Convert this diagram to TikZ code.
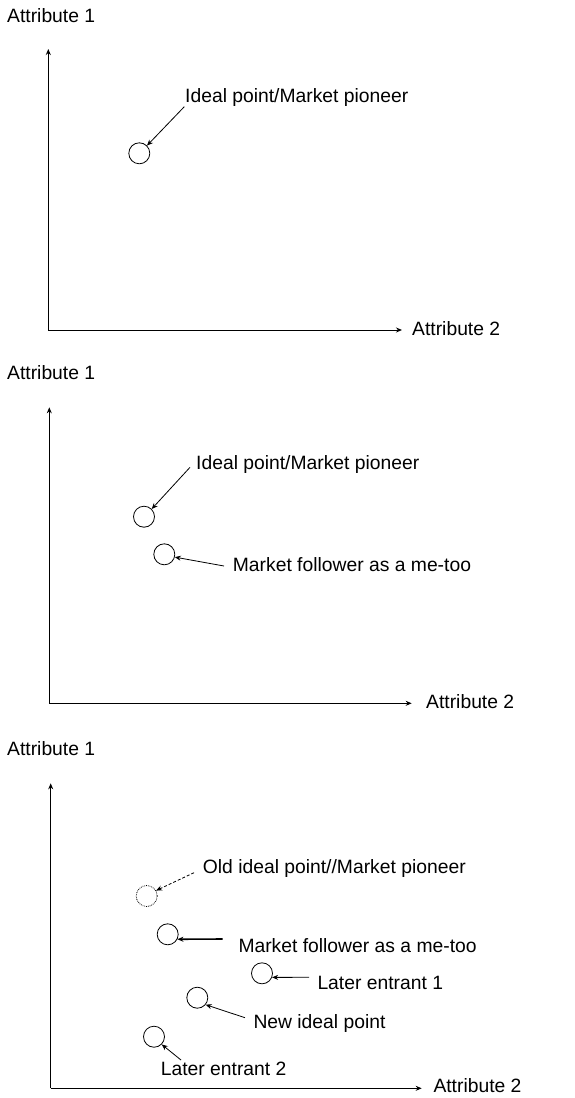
\documentclass[tikz,border=0pt]{standalone}
\usepackage{fontspec}
\setmainfont{Liberation Sans}
\usetikzlibrary{arrows.meta}
\begin{document}
\begin{tikzpicture}[x=1pt,y=-1pt,
  lbl/.style={anchor=base west,inner sep=0pt,font=\fontsize{19.3}{21}\selectfont},
  axis/.style={line width=1pt,-{Stealth[length=6pt,width=5pt]}},
  ptr/.style={line width=0.8pt,-{Stealth[length=6pt,width=5pt]}},
  pt/.style={circle,draw,line width=0.8pt,minimum size=21pt,inner sep=0pt}]
\useasboundingbox (0,0) rectangle (574,1098);
% ---------- Panel 1
\coordinate (o1) at (48.3,330);
\coordinate (y1) at (48.3,49);
\coordinate (x1) at (402,330);
\draw[axis] (o1) -- (y1);
\draw[axis] (o1) -- (x1);
\node[lbl] (a1t) at (7,22.7) {Attribute 1};
\node[lbl] (a1r) at (412,335) {Attribute 2};
\node[pt] (p1) at (139.3,153.3) {};
\node[lbl] (t1) at (185,102.3) {Ideal point/Market pioneer};
\coordinate (s1) at (184.3,106.7);
\draw[ptr] (s1) -- (p1.45);
% ---------- Panel 2
\coordinate (o2) at (49.3,703.3);
\coordinate (y2) at (49.3,407.3);
\coordinate (x2) at (411.7,703.3);
\draw[axis] (o2) -- (y2);
\draw[axis] (o2) -- (x2);
\node[lbl] (a2t) at (7,379.3) {Attribute 1};
\node[lbl] (a2r) at (426,708.3) {Attribute 2};
\node[pt] (p2) at (144,516.7) {};
\node[pt] (f2) at (164.3,554.3) {};
\node[lbl] (t2) at (196,469.3) {Ideal point/Market pioneer};
\node[lbl] (u2) at (232.7,571.7) {Market follower as a me-too};
\coordinate (s2) at (190,467.3);
\coordinate (r2) at (224,566);
\draw[ptr] (s2) -- (p2.45);
\draw[ptr] (r2) -- (f2.-15);
% ---------- Panel 3
\coordinate (o3) at (50.7,1088.3);
\coordinate (y3) at (50.7,783.3);
\coordinate (x3) at (421.7,1088.3);
\draw[axis] (o3) -- (y3);
\draw[axis] (o3) -- (x3);
\node[lbl] (a3t) at (7,755) {Attribute 1};
\node[lbl] (a3r) at (433.3,1092.3) {Attribute 2};
\node[pt,densely dotted] (old) at (146.7,896) {};
\node[pt] (mf) at (167.7,934.3) {};
\node[pt] (le1) at (262,973.3) {};
\node[pt] (nip) at (197.3,997.7) {};
\node[pt] (le2) at (154,1036.7) {};
\node[lbl] (t3) at (202.7,873.3) {Old ideal point//Market pioneer};
\node[lbl] (u3) at (238.3,952.3) {Market follower as a me-too};
\node[lbl] (l1) at (317.3,989.3) {Later entrant 1};
\node[lbl] (n3) at (253.3,1028.3) {New ideal point};
\node[lbl] (l2) at (160.7,1075) {Later entrant 2};
\coordinate (s3) at (194,872.7);
\coordinate (r3) at (222.7,939);
\coordinate (q3) at (309,977.3);
\coordinate (m3) at (245,1017.7);
\coordinate (k3) at (181,1060);
\draw[ptr,densely dashed] (s3) -- (old.30);
\draw[ptr,line width=1.6pt] (r3) -- (mf.-27);
\draw[ptr] (q3) -- (le1.-22);
\draw[ptr] (m3) -- (nip.-40);
\draw[ptr] (k3) -- (le2.-45);
\end{tikzpicture}
\end{document}
